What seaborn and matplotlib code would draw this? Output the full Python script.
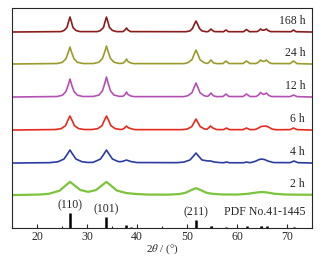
import numpy as np
import pandas as pd
import matplotlib
matplotlib.use("Agg")
import matplotlib.pyplot as plt
import seaborn as sns

# XRD patterns, intensities (px above each baseline)
tt_168 = [15, 24.8, 25.4, 26.0, 26.3, 26.6, 26.9, 27.2, 27.8, 28.6,
          32.1, 32.7, 33.3, 33.6, 33.9, 34.2, 34.5, 35.1, 35.9,
          37.2, 37.6, 37.9, 38.2, 38.7,
          49.8, 50.6, 51.1, 51.45, 51.8, 52.15, 52.5, 53.0, 53.8,
          54.2, 54.5, 54.8, 55.1, 55.5,
          57.3, 57.8, 58.3,
          61.3, 61.9, 62.5,
          64.0, 64.4, 64.7, 65.0, 65.3, 65.6, 65.9, 66.2, 66.7,
          70.8, 71.3, 71.8, 75]
i_168 = [0, 0.4, 1.5, 4.5, 10, 15, 10, 4.5, 1.5, 0.4,
         0.4, 1.5, 4.5, 10, 15, 10, 4.5, 1.5, 0.4,
         0.4, 2, 4, 2, 0.4,
         0.3, 1.1, 3.5, 7.5, 11, 7.5, 3.5, 1.1, 0.3,
         0.4, 1.5, 3, 1.5, 0.4,
         0.3, 2, 0.3,
         0.3, 2.5, 0.3,
         0.4, 1.5, 3, 2, 1.8, 2.2, 3, 1.5, 0.4,
         0.3, 2, 0.3, 0]

tt_24 = [15, 24.0, 25.1, 25.8, 26.25, 26.6, 26.95, 27.4, 28.1, 29.2,
         31.3, 32.4, 33.1, 33.55, 33.9, 34.25, 34.7, 35.4, 36.5,
         37.2, 37.6, 37.9, 38.2, 38.8, 39.4,
         49.4, 50.2, 51.0, 51.4, 51.8, 52.2, 52.6, 53.4, 54.0,
         54.3, 54.8, 55.3, 55.9,
         57.2, 57.8, 58.4,
         61.2, 61.9, 62.6,
         63.8, 64.3, 64.7, 65.1, 65.3, 65.55, 65.9, 66.3, 66.9,
         70.6, 71.3, 72.0, 75]
i_24 = [0, 0.5, 1.7, 5.3, 11.4, 17, 11.4, 5.3, 1.7, 0.5,
        0.5, 1.8, 5.6, 12, 18, 12, 5.6, 1.8, 0.5,
        0.8, 2.5, 5, 2.5, 1.0, 0.4,
        0.4, 1.4, 4.3, 9.4, 14, 9.4, 4.3, 1.4, 0.6,
        1.2, 4, 1.2, 0.4,
        0.5, 3, 0.5,
        0.5, 3, 0.5,
        0.5, 1.8, 4, 2.8, 2.6, 3, 4, 1.8, 0.5,
        0.4, 3, 0.4, 0]

tt_12 = [15, 24.0, 25.1, 25.8, 26.25, 26.6, 26.95, 27.4, 28.1, 29.2,
         31.3, 32.4, 33.1, 33.55, 33.9, 34.25, 34.7, 35.4, 36.5,
         37.2, 37.6, 37.9, 38.2, 38.8, 39.4,
         49.4, 50.2, 51.0, 51.4, 51.8, 52.2, 52.6, 53.4, 54.0,
         54.3, 54.8, 55.3, 55.9,
         57.2, 57.8, 58.4,
         61.2, 61.9, 62.6,
         63.8, 64.3, 64.7, 65.1, 65.3, 65.55, 65.9, 66.3, 66.9,
         70.6, 71.3, 72.0, 75]
i_12 = [0, 0.5, 1.8, 5.6, 12, 18, 12, 5.6, 1.8, 0.5,
        0.6, 2, 6.2, 13.4, 20, 13.4, 6.2, 2, 0.6,
        0.8, 2.5, 5, 2.5, 1.0, 0.4,
        0.4, 1.4, 4.3, 9.4, 14, 9.4, 4.3, 1.4, 0.6,
        1.2, 4, 1.2, 0.4,
        0.5, 3, 0.5,
        0.5, 3, 0.5,
        0.5, 2, 4.5, 3, 2.6, 3, 4, 1.8, 0.5,
        0.4, 2, 0.4, 0]

tt_6 = [15, 23.7, 24.85, 25.7, 26.15, 26.6, 27.05, 27.5, 28.35, 29.5,
        31.0, 32.15, 33.0, 33.45, 33.9, 34.35, 34.8, 35.65, 36.7,
        37.1, 37.5, 37.9, 38.3, 38.9, 39.6,
        49.2, 50.1, 50.95, 51.4, 51.8, 52.2, 52.65, 53.5, 54.0,
        54.3, 54.7, 55.2, 55.9,
        57.3, 57.9, 58.5,
        61.2, 61.9, 62.6,
        63.6, 64.3, 64.8, 65.3, 65.8, 66.3, 67.0, 67.8,
        70.6, 71.3, 72.0, 75]
i_6 = [0, 0.5, 1.4, 4.3, 9.4, 14, 9.4, 4.3, 1.4, 0.5,
       0.5, 1.4, 4.3, 9.4, 14, 9.4, 4.3, 1.4, 0.5,
       0.8, 2, 4, 2.2, 1.2, 0.4,
       0.4, 1.1, 3.4, 7.4, 11, 7.4, 3.4, 1.1, 0.8,
       2, 4, 2, 0.5,
       0.4, 2, 0.4,
       0.4, 2, 0.4,
       0.5, 2, 3.5, 3.8, 4, 3, 1, 0.3,
       0.4, 2, 0.4, 0]

tt_4 = [15, 22.6, 24.2, 25.4, 26.05, 26.6, 27.15, 27.8, 29.0, 30.2,
        31.2, 31.5, 32.7, 33.35, 33.9, 34.45, 35.1, 36.3, 37.0, 37.9, 38.8, 40.0,
        48.0, 49.4, 50.6, 51.25, 51.8, 52.35, 53.0, 54.2, 54.6, 55.5, 56.5,
        57.3, 57.9, 58.5,
        61.3, 61.9, 62.5,
        62.8, 63.8, 64.4, 64.9, 65.5, 66.2, 67.3,
        70.6, 71.4, 72.2, 75]
i_4 = [0, 0.4, 1.3, 4, 8.7, 13, 8.7, 4, 1.3, 0.6,
       0.7, 1.3, 4, 8.7, 13, 8.7, 4, 1.4, 1.5, 3, 1.5, 0.5,
       0.4, 1, 3.1, 6.7, 10, 6.7, 3.1, 2, 2.2, 1, 0.5,
       0.3, 1, 0.3,
       0.3, 1, 0.4,
       0.5, 2, 3.5, 4, 3.5, 2, 0.5,
       0.4, 2, 0.4, 0]

tt_2 = [15, 20.5, 22.4, 24.5, 25.6, 26.6, 27.6, 28.7, 30.25, 31.8,
        32.9, 33.9, 34.9, 36.0, 37.9, 39.5, 42.0, 46.0,
        48.5, 49.7, 50.75, 51.8, 52.85, 53.9, 55.0, 57.0, 60.0,
        62.0, 63.5, 64.5, 65.2, 66.0, 67.5, 69.5, 72.0, 75]
i_2 = [0, 0.5, 1.3, 4.3, 9, 13.2, 9.3, 5, 3.2, 5,
       9.3, 13.2, 9, 4.5, 2, 1.2, 0.5, 0.4,
       1, 2.3, 4.7, 7, 4.7, 2.3, 1.3, 0.6, 0.5,
       1.2, 2.2, 2.9, 3, 2.6, 1.3, 0.6, 0.4, 0.3]

samples = ["168 h", "24 h", "12 h", "6 h", "4 h", "2 h"]
thetas = [tt_168, tt_24, tt_12, tt_6, tt_4, tt_2]
intens = [i_168, i_24, i_12, i_6, i_4, i_2]
offsets = [196, 164, 131, 98, 65, 33]
colors = ["#8b1c1c", "#9c9a2c", "#b450b4", "#e82a1e", "#2a3ca0", "#7cc43c"]

# SnO2 reference, PDF No.41-1445
pdf_pos = [26.6, 33.9, 37.9, 38.9, 51.8, 54.8, 57.8, 61.9, 64.7, 65.9, 71.3]
pdf_int = [15, 11, 3, 1.5, 8, 2.5, 1.5, 2, 2, 2.5, 1.5]
hkl = ["(110)", "(101)", "(211)"]
hkl_pos = [26.6, 33.9, 51.8]

rows = []
for s, tt, ii, off in zip(samples, thetas, intens, offsets):
    for t, i in zip(tt, ii):
        rows.append({"sample": s, "2theta": t, "I": i + off})
df = pd.DataFrame(rows)

sns.set_style("ticks")
plt.rcParams["font.family"] = ["Liberation Serif", "DejaVu Serif"]
plt.rcParams["mathtext.fontset"] = "stix"

fig = plt.figure(figsize=(3.23, 2.58), dpi=100)
ax = fig.add_axes([0.037, 0.116, 0.929, 0.853])

sns.lineplot(data=df, x="2theta", y="I", hue="sample", palette=dict(zip(samples, colors)),
             hue_order=samples, legend=False, estimator=None, sort=False, lw=1.2, ax=ax)
# 2 h trace is noisier/thicker
ax.lines[-1].set_linewidth(1.6)

ax.vlines(pdf_pos, 0, pdf_int, color="black", lw=1.8)
for lab, p, h in zip(hkl, hkl_pos, [15, 11, 8]):
    ax.text(p, h + 2, lab, ha="center", va="bottom", fontsize=8.5)
ax.text(73.6, 10, "PDF No.41-1445", ha="right", va="bottom", fontsize=8.5)

for s, off in zip(samples, offsets):
    ax.text(73.6, off + 5, s, ha="right", va="bottom", fontsize=8.5)

ax.set_xlim(15, 75)
ax.set_ylim(0, 220)
ax.set_yticks([])
ax.set_xticks([20, 30, 40, 50, 60, 70])
ax.set_xticks(np.arange(15, 76, 5), minor=True)
ax.tick_params(axis="x", direction="in", length=3, width=0.8, labelsize=8.5, pad=2)
ax.tick_params(axis="x", which="minor", direction="in", length=1.5, width=0.8)
for sp in ax.spines.values():
    sp.set_linewidth(0.8)
ax.set_xlabel("2$\\theta$ / (°)", fontsize=8, labelpad=0)
ax.set_ylabel("")

fig.savefig("out.png", dpi=100)
